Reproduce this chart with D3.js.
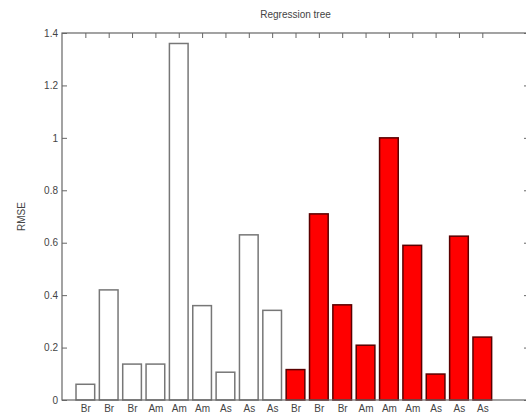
<!DOCTYPE html>
<html>
<head>
<meta charset="utf-8">
<script src="https://cdn.jsdelivr.net/npm/d3@7"></script>
<style>
  body { margin: 0; background: #fff; }
  text { font-family: "Liberation Sans", Arial, sans-serif; fill: #444; }
</style>
</head>
<body>
<svg width="526" height="419"></svg>
<script>
  'use strict';

  // bar labels, in drawing order
  const labels = ['Br','Br','Br','Am','Am','Am','As','As','As',
                  'Br','Br','Br','Am','Am','Am','As','As','As'];
  // RMSE values
  const rmse = [0.06, 0.42, 0.137, 0.137, 1.36, 0.36, 0.106, 0.63, 0.342,
                0.116, 0.71, 0.363, 0.209, 1.0, 0.59, 0.099, 0.625, 0.24];
  // first nine are white, last nine red
  const group = labels.map((d, i) => i < 9 ? 'white' : 'red');
  const yTicks = [0, 0.2, 0.4, 0.6, 0.8, 1, 1.2, 1.4];

  const svg = d3.select('svg');
  const mLeft = 62, mRight = 529, mTop = 33, mBottom = 400;

  const x = d3.scaleLinear().domain([0, 20]).range([mLeft, mRight]);
  const y = d3.scaleLinear().domain([0, 1.4]).range([mBottom, mTop]);
  const bw = (x(1) - x(0)) * 0.8;

  // bars
  svg.selectAll('rect.bar').data(rmse)
    .enter().append('rect')
      .attr('class', 'bar')
      .attr('x', (d, i) => x(i + 1) - bw / 2)
      .attr('y', d => y(d))
      .attr('width', bw)
      .attr('height', d => y(0) - y(d))
      .attr('fill', (d, i) => group[i] === 'red' ? '#ff0000' : '#fff')
      .attr('stroke', (d, i) => group[i] === 'red' ? '#5a0000' : '#777')
      .attr('stroke-width', 1.5);

  // box
  svg.append('rect')
    .attr('x', mLeft).attr('y', mTop)
    .attr('width', mRight - mLeft).attr('height', mBottom - mTop)
    .attr('fill', 'none').attr('stroke', '#666').attr('stroke-width', 1.2);

  // left axis
  const yAxis = d3.axisLeft(y).tickValues(yTicks).tickSizeInner(-5).tickSizeOuter(0)
    .tickPadding(4).tickFormat(d => d);
  const gy = svg.append('g').attr('transform', `translate(${mLeft},0)`).call(yAxis);
  gy.select('.domain').remove();
  gy.selectAll('line').attr('stroke', '#666');
  gy.selectAll('text').style('font-size', '10px').attr('fill', '#444');

  // right ticks
  const gr = svg.append('g').attr('transform', `translate(${mRight},0)`)
    .call(d3.axisRight(y).tickValues(yTicks).tickSizeInner(-5).tickSizeOuter(0).tickFormat(''));
  gr.select('.domain').remove();
  gr.selectAll('line').attr('stroke', '#666');

  // top ticks
  const xTicks = d3.range(1, 19);
  const gt = svg.append('g').attr('transform', `translate(0,${mTop})`)
    .call(d3.axisTop(x).tickValues(xTicks).tickSizeInner(-5).tickSizeOuter(0).tickFormat(''));
  gt.select('.domain').remove();
  gt.selectAll('line').attr('stroke', '#666');

  // bottom labels
  const gb = svg.append('g').attr('transform', `translate(0,${mBottom})`)
    .call(d3.axisBottom(x).tickValues(xTicks).tickSize(0).tickPadding(5)
      .tickFormat(d => labels[d - 1]));
  gb.select('.domain').remove();
  gb.selectAll('text').style('font-size', '10px').attr('fill', '#444');

  // title
  svg.append('text')
    .attr('x', (mLeft + mRight) / 2).attr('y', 18)
    .attr('text-anchor', 'middle')
    .style('font-size', '10px')
    .text('Regression tree');

  // y label
  svg.append('text')
    .attr('transform', `translate(25,${(mTop + mBottom) / 2}) rotate(-90)`)
    .attr('text-anchor', 'middle')
    .style('font-size', '10px')
    .text('RMSE');
</script>
</body>
</html>
